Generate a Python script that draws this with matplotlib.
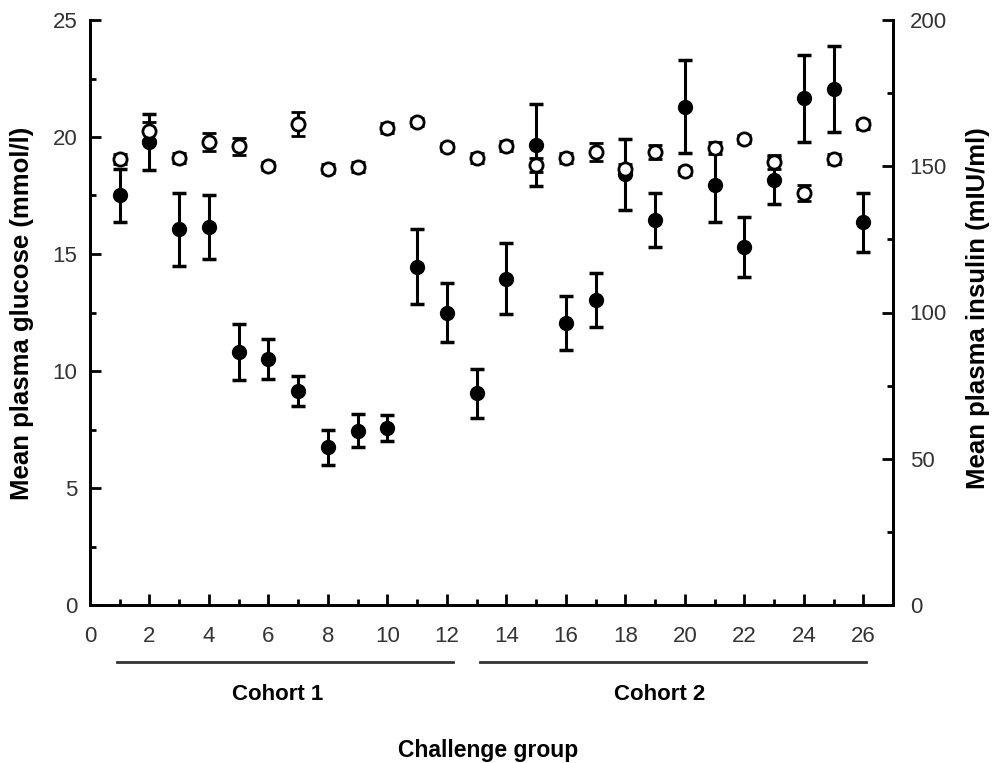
import matplotlib
matplotlib.use('Agg')
import matplotlib.pyplot as plt
import matplotlib.transforms as mtransforms
from matplotlib.ticker import MultipleLocator

plt.rcParams['font.family'] = ['Liberation Sans', 'DejaVu Sans']

groups = list(range(1, 27))
# mean plasma glucose (mmol/l), filled symbols, left axis
glucose = [17.5, 19.8, 16.05, 16.15, 10.8, 10.5, 9.15, 6.75, 7.45, 7.55,
           14.45, 12.5, 9.05, 13.95, 19.65, 12.05, 13.05, 18.4, 16.45, 21.3,
           17.95, 15.3, 18.15, 21.65, 22.05, 16.35]
glucose_err = [1.15, 1.2, 1.55, 1.35, 1.2, 0.85, 0.65, 0.75, 0.7, 0.55,
               1.6, 1.25, 1.05, 1.5, 1.75, 1.15, 1.15, 1.5, 1.15, 2.0,
               1.6, 1.3, 1.0, 1.85, 1.85, 1.25]
# mean plasma insulin (mIU/ml), open symbols, right axis
insulin = [152.5, 162.0, 152.8, 158.3, 156.9, 150.1, 164.4, 149.1, 149.7, 163.1,
           165.1, 156.6, 152.8, 156.9, 150.4, 152.8, 154.9, 149.0, 154.9, 148.4,
           156.2, 159.3, 151.5, 140.9, 152.5, 164.4]
insulin_err = [1.8, 3.0, 1.8, 3.2, 2.9, 1.5, 4.0, 1.5, 1.8, 1.8,
               1.5, 1.5, 1.8, 1.8, 2.5, 1.8, 3.0, 1.8, 2.5, 1.5,
               2.0, 1.5, 2.5, 2.8, 1.8, 1.5]

cohorts = ['Cohort 1', 'Cohort 2']
cohort_spans = [(0.9, 12.2), (13.1, 26.1)]
cohort_label_x = [278, 660]

W, H = 997, 763
fig = plt.figure(figsize=(W / 100, H / 100), dpi=100)
ax = fig.add_axes([90 / W, 1 - 605 / H, (893 - 90) / W, (605 - 20) / H])
ax2 = ax.twinx()

ax.errorbar(groups, glucose, yerr=glucose_err, fmt='o', color='black', ms=10,
            elinewidth=2.2, capsize=5, capthick=2.5)
ax2.errorbar(groups, insulin, yerr=insulin_err, fmt='o', color='black', mfc='white',
             mec='black', mew=2, ms=9.5, elinewidth=2.2, capsize=5, capthick=2.5)

ax.set_xlim(0, 27)
ax.set_ylim(0, 25)
ax2.set_ylim(0, 200)

ax.xaxis.set_major_locator(MultipleLocator(2))
ax.xaxis.set_minor_locator(MultipleLocator(1))
ax.yaxis.set_major_locator(MultipleLocator(5))
ax.yaxis.set_minor_locator(MultipleLocator(2.5))
ax2.yaxis.set_major_locator(MultipleLocator(50))
ax2.yaxis.set_minor_locator(MultipleLocator(25))

for a in (ax, ax2):
    a.spines['top'].set_visible(False)
    for s in ('left', 'right', 'bottom'):
        a.spines[s].set_linewidth(2)

ax.tick_params(which='both', direction='in', width=2, top=False, right=False,
               labelsize=16, labelcolor='#333333')
ax.tick_params(axis='x', pad=15)
ax.tick_params(axis='y', pad=9)
ax.tick_params(which='major', length=8)
ax.tick_params(which='minor', length=4)
ax2.tick_params(which='both', direction='in', width=2, left=False, right=True,
                labelsize=16, labelcolor='#333333', pad=12)
ax2.tick_params(which='major', length=8)
ax2.tick_params(which='minor', length=4)

fig.text(22 / W, 1 - 313 / H, 'Mean plasma glucose (mmol/l)', rotation=90,
         ha='center', va='center', fontsize=18.5, fontweight='bold')
fig.text(978 / W, 1 - 308 / H, 'Mean plasma insulin (mIU/ml)', rotation=90,
         ha='center', va='center', fontsize=18.5, fontweight='bold')

# cohort bars under the x axis
trans = mtransforms.blended_transform_factory(ax.transData, fig.transFigure)
for (x0, x1), name, lx in zip(cohort_spans, cohorts, cohort_label_x):
    ax.plot([x0, x1], [1 - 662 / H] * 2, color='#333333', lw=2,
            transform=trans, clip_on=False)
    fig.text(lx / W, 1 - 695 / H, name, ha='center', va='center',
             fontsize=16, fontweight='bold')

fig.text(488 / W, 1 - 750 / H, 'Challenge group', ha='center', va='center',
         fontsize=16.5, fontweight='bold')

fig.savefig('out.png', dpi=100)
